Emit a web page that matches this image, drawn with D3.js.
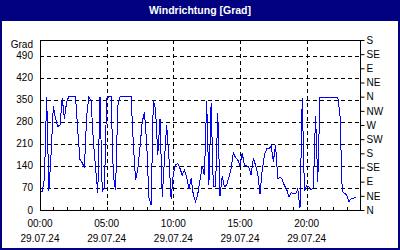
<!DOCTYPE html>
<html>
<head>
<meta charset="utf-8">
<script src="https://cdn.jsdelivr.net/npm/d3@7"></script>
<style>
    html, body { margin: 0; padding: 0; background: #fff; overflow: hidden; }
    svg { display: block; }
    svg text { font-family: 'Liberation Sans', Arial, sans-serif; font-size: 10px; fill: #000; }
    .title { font-weight: bold; font-size: 10.5px; fill: #fff; }
</style>
</head>
<body>
<div id="chart"></div>
<script>

var chartTitle = 'Windrichtung [Grad]';
var unitLabel = 'Grad';
var dayLabel = '29.07.24';
var startDate = new Date(2024, 6, 29, 0, 0);
var endDate = new Date(2024, 6, 30, 0, 0);
var stepMinutes = 10;

var timeTicks = ['00:00', '05:00', '10:00', '15:00', '20:00'];
var degreeTicks = [0, 70, 140, 210, 280, 350, 420, 490];
var compassLabels = ['N', 'NE', 'E', 'SE', 'S', 'SW', 'W', 'NW', 'N', 'NE', 'E', 'SE', 'S'];

// wind direction in degrees, one reading every 10 minutes from 00:00
var windDirection = [
    55, 60, 100, 360, 60, 180, 330, 290, 265, 270,
    355, 290, 345, 360, 360, 360, 360, 250, 160, 150,
    135, 300, 360, 345, 220, 135, 55, 360, 60, 70,
    355, 360, 360, 110, 63, 330, 360, 360, 360, 360,
    360, 360, 210, 95, 130, 200, 280, 310, 215, 40,
    16, 350, 320, 175, 290, 42, 160, 270, 170, 34,
    116, 143, 148, 132, 111, 127, 106, 66, 100, 48,
    26, 51, 95, 140, 110, 345, 80, 340, 74, 76,
    307, 45, 108, 74, 79, 104, 132, 182, 166, 159,
    140, 180, 143, 140, 136, 111, 164, 142, 116, 50,
    127, 175, 194, 195, 203, 154, 206, 100, 104, 97,
    77, 66, 42, 55, 51, 51, 67, 5, 355, 61,
    77, 74, 64, 70, 300, 90, 358, 358, 358, 358,
    358, 358, 358, 358, 358, 300, 60, 53, 48, 26,
    36, 37, 40
];

var width = 400;
var height = 250;
var margin = { left: 40, top: 40, right: 40, bottom: 40 };
var innerWidth = width - margin.left - margin.right;
var innerHeight = height - margin.top - margin.bottom;

var data = windDirection.map(function(v, i) {
    return { date: d3.timeMinute.offset(startDate, i * stepMinutes), value: v };
});

var xScale = d3.scaleTime()
    .domain([startDate, endDate])
    .range([0, innerWidth]);

var yScale = d3.scaleLinear()
    .domain([0, 540])
    .range([innerHeight, 0]);

var parseTime = d3.timeParse('%H:%M');
var tickDates = timeTicks.map(function(t) {
    var p = parseTime(t);
    return new Date(2024, 6, 29, p.getHours(), p.getMinutes());
});

var svg = d3.select('#chart')
    .append('svg')
    .attr('width', width)
    .attr('height', height);

// frame and title bar
svg.append('rect')
    .attr('width', width)
    .attr('height', height)
    .style('fill', '#000080');

svg.append('rect')
    .attr('x', 2)
    .attr('y', 21)
    .attr('width', width - 4)
    .attr('height', height - 23)
    .style('fill', '#fff');

svg.append('text')
    .attr('class', 'title')
    .attr('x', width / 2)
    .attr('y', 14)
    .attr('text-anchor', 'middle')
    .text(chartTitle);

var canvas = svg.append('g')
    .attr('transform', 'translate(' + [margin.left, margin.top] + ')');

// dashed grid
canvas.selectAll('line.hgrid')
    .data(degreeTicks.filter(function(d) { return d > 0; }))
    .enter()
    .append('line')
    .attr('class', 'hgrid')
    .attr('x1', 0)
    .attr('x2', innerWidth)
    .attr('y1', function(d) { return Math.round(yScale(d)) + 0.5; })
    .attr('y2', function(d) { return Math.round(yScale(d)) + 0.5; })
    .style('stroke', '#000')
    .style('stroke-dasharray', '4,3');

canvas.selectAll('line.vgrid')
    .data(tickDates.slice(1))
    .enter()
    .append('line')
    .attr('class', 'vgrid')
    .attr('x1', function(d) { return Math.round(xScale(d)) + 0.5; })
    .attr('x2', function(d) { return Math.round(xScale(d)) + 0.5; })
    .attr('y1', 0)
    .attr('y2', innerHeight)
    .style('stroke', '#000')
    .style('stroke-dasharray', '4,3');

// hourly minor ticks on the time axis
canvas.selectAll('line.hour')
    .data(d3.timeHour.range(startDate, endDate))
    .enter()
    .append('line')
    .attr('class', 'hour')
    .attr('x1', function(d) { return Math.round(xScale(d)) + 0.5; })
    .attr('x2', function(d) { return Math.round(xScale(d)) + 0.5; })
    .attr('y1', innerHeight)
    .attr('y2', innerHeight - 3)
    .style('stroke', '#000');

// wind direction line
var line = d3.line()
    .x(function(d) { return xScale(d.date); })
    .y(function(d) { return yScale(d.value); });

canvas.append('path')
    .datum(data)
    .attr('d', line)
    .style('fill', 'none')
    .style('stroke', '#0000ff')
    .style('stroke-width', 1)
    .style('shape-rendering', 'crispEdges');

// plot frame
canvas.append('rect')
    .attr('x', 0.5)
    .attr('y', 0.5)
    .attr('width', innerWidth)
    .attr('height', innerHeight)
    .style('fill', 'none')
    .style('stroke', '#000');

// left axis labels
canvas.selectAll('text.ylabel')
    .data(degreeTicks)
    .enter()
    .append('text')
    .attr('class', 'ylabel')
    .attr('x', -7)
    .attr('y', function(d) { return yScale(d); })
    .attr('dy', '0.35em')
    .attr('text-anchor', 'end')
    .text(function(d) { return d; });

canvas.append('text')
    .attr('x', -7)
    .attr('y', 4)
    .attr('dy', '0.35em')
    .attr('text-anchor', 'end')
    .text(unitLabel);

// right compass axis
var compassAxis = d3.axisRight(yScale)
    .tickValues(compassLabels.map(function(c, i) { return i * 45; }))
    .tickFormat(function(d, i) { return compassLabels[i]; })
    .tickSize(4)
    .tickPadding(2);

canvas.append('g')
    .attr('transform', 'translate(' + [innerWidth + 0.5, 0] + ')')
    .call(compassAxis)
    .call(function(g) {
        g.select('.domain').remove();
        g.selectAll('text').style('font-family', "'Liberation Sans', Arial, sans-serif").style('font-size', '10px');
    });

// bottom time labels
var xLabels = canvas.selectAll('g.xlabel')
    .data(tickDates)
    .enter()
    .append('g')
    .attr('class', 'xlabel')
    .attr('transform', function(d) { return 'translate(' + [xScale(d), innerHeight] + ')'; });

xLabels.append('text')
    .attr('y', 13)
    .attr('dy', '0.35em')
    .attr('text-anchor', 'middle')
    .text(function(d, i) { return timeTicks[i]; });

xLabels.append('text')
    .attr('y', 28)
    .attr('dy', '0.35em')
    .attr('text-anchor', 'middle')
    .text(dayLabel);

</script>
</body>
</html>
